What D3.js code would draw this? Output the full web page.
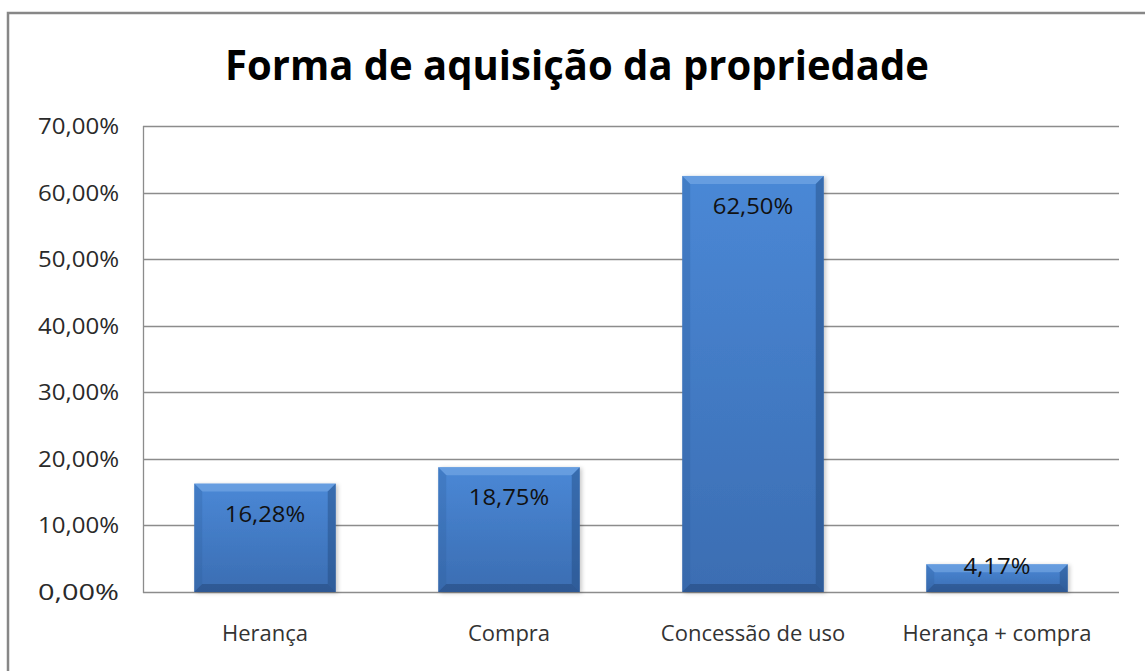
<!DOCTYPE html>
<html>

<head>
    <meta charset="utf-8" />
    <script src="https://d3js.org/d3.v7.min.js"></script>
    <style>
        body { margin: 0; background: #fff; }
        text { font-family: "Open Sans", sans-serif; fill: #222; }
        .grid line { stroke: #8c8c8c; stroke-width: 1.3px; }
        .tick-label { font-size: 22px; fill: #2a2a2a; }
        .cat-label { font-size: 22px; fill: #333; }
        .value-label { font-size: 22px; fill: #111; }
    </style>
</head>

<body>
    <svg id="chart" width="1145" height="671"></svg>

    <script>
        // chart data
        const categories = ["Herança", "Compra", "Concessão de uso", "Herança + compra"];
        const values = [16.28, 18.75, 62.50, 4.17];
        const valueLabels = ["16,28%", "18,75%", "62,50%", "4,17%"];
        const yTicks = [0, 10, 20, 30, 40, 50, 60, 70];
        const title = "Forma de aquisição da propriedade";

        const svg = d3.select("#chart");
        const margin = { left: 143, right: 1119, top: 126, bottom: 592 };

        // outer frame of the chart area (goes past the right / bottom edge)
        svg.append("rect")
            .attr("x", 8).attr("y", 13)
            .attr("width", 1160).attr("height", 700)
            .attr("fill", "#fff")
            .attr("stroke", "#878787")
            .attr("stroke-width", 2.5);

        const x = d3.scaleBand()
            .domain(categories)
            .range([margin.left, margin.right])
            .paddingInner(0.42)
            .paddingOuter(0.21);

        const y = d3.scaleLinear()
            .domain([0, 70])
            .range([margin.bottom, margin.top]);

        // gradient for the bars
        const defs = svg.append("defs");
        const grad = defs.append("linearGradient")
            .attr("id", "barFill")
            .attr("x1", 0).attr("y1", 0).attr("x2", 0).attr("y2", 1);
        grad.append("stop").attr("offset", "0%").attr("stop-color", "#4a88d6");
        grad.append("stop").attr("offset", "100%").attr("stop-color", "#3b6db2");

        const shadow = defs.append("filter").attr("id", "shadow")
            .attr("x", "-10%").attr("y", "-10%").attr("width", "125%").attr("height", "125%");
        shadow.append("feDropShadow")
            .attr("dx", 2).attr("dy", 1).attr("stdDeviation", 2)
            .attr("flood-color", "#000").attr("flood-opacity", 0.22);

        // gridlines
        svg.append("g").attr("class", "grid")
            .selectAll("line")
            .data(yTicks)
            .enter().append("line")
            .attr("x1", margin.left).attr("x2", margin.right)
            .attr("y1", d => Math.round(y(d)) + 0.5)
            .attr("y2", d => Math.round(y(d)) + 0.5);

        // left axis line
        svg.append("line")
            .attr("x1", margin.left + 0.5).attr("x2", margin.left + 0.5)
            .attr("y1", margin.top).attr("y2", margin.bottom + 1)
            .attr("stroke", "#8c8c8c").attr("stroke-width", 1.3);

        // y tick labels
        svg.append("g")
            .selectAll("text")
            .data(yTicks)
            .enter().append("text")
            .attr("class", "tick-label")
            .attr("x", 119)
            .attr("y", d => y(d) + 8)
            .attr("text-anchor", "end")
            .attr("textLength", 81)
            .attr("lengthAdjust", "spacingAndGlyphs")
            .text(d => d3.format(".2f")(d).replace(".", ",") + "%");

        // bars with a soft bevel look
        const bev = 8;
        const bars = svg.append("g")
            .selectAll("g")
            .data(categories.map((c, i) => ({ cat: c, v: values[i], label: valueLabels[i] })))
            .enter().append("g");

        bars.append("rect")
            .attr("x", d => x(d.cat))
            .attr("y", d => y(d.v))
            .attr("width", x.bandwidth())
            .attr("height", d => y(0) - y(d.v))
            .attr("fill", "url(#barFill)")
            .attr("filter", "url(#shadow)");

        function bevelPath(d, side) {
            const x0 = x(d.cat), x1 = x0 + x.bandwidth();
            const y0 = y(d.v), y1 = y(0);
            const b = Math.min(bev, (y1 - y0) / 3);
            if (side === "top") return `M${x0},${y0}L${x1},${y0}L${x1 - b},${y0 + b}L${x0 + b},${y0 + b}Z`;
            if (side === "left") return `M${x0},${y0}L${x0 + b},${y0 + b}L${x0 + b},${y1 - b}L${x0},${y1}Z`;
            if (side === "right") return `M${x1},${y0}L${x1 - b},${y0 + b}L${x1 - b},${y1 - b}L${x1},${y1}Z`;
            return `M${x0},${y1}L${x0 + b},${y1 - b}L${x1 - b},${y1 - b}L${x1},${y1}Z`;
        }

        const bevelStyles = [
            { side: "top", fill: "#8ab8ee", op: 0.45 },
            { side: "left", fill: "#2c5a98", op: 0.25 },
            { side: "right", fill: "#1f4476", op: 0.4 },
            { side: "bottom", fill: "#1c3a66", op: 0.4 }
        ];
        bevelStyles.forEach(s => {
            bars.append("path")
                .attr("d", d => bevelPath(d, s.side))
                .attr("fill", s.fill)
                .attr("fill-opacity", s.op);
        });

        // value labels inside bars
        bars.append("text")
            .attr("class", "value-label")
            .attr("x", d => x(d.cat) + x.bandwidth() / 2)
            .attr("y", d => {
                const h = y(0) - y(d.v);
                return y(d.v) + (h > 60 ? 38 : 10);
            })
            .attr("text-anchor", "middle")
            .attr("textLength", d => d.label.length * 13.4)
            .attr("lengthAdjust", "spacingAndGlyphs")
            .text(d => d.label);

        // category labels
        svg.append("g")
            .selectAll("text")
            .data(categories)
            .enter().append("text")
            .attr("class", "cat-label")
            .attr("x", d => x(d) + x.bandwidth() / 2)
            .attr("y", 641)
            .attr("text-anchor", "middle")
            .text(d => d);

        // title
        svg.append("text")
            .attr("x", 577)
            .attr("y", 80)
            .attr("text-anchor", "middle")
            .attr("textLength", 704)
            .attr("lengthAdjust", "spacingAndGlyphs")
            .style("font-size", "42px")
            .style("font-weight", "bold")
            .style("fill", "#000")
            .text(title);
    </script>
</body>

</html>
